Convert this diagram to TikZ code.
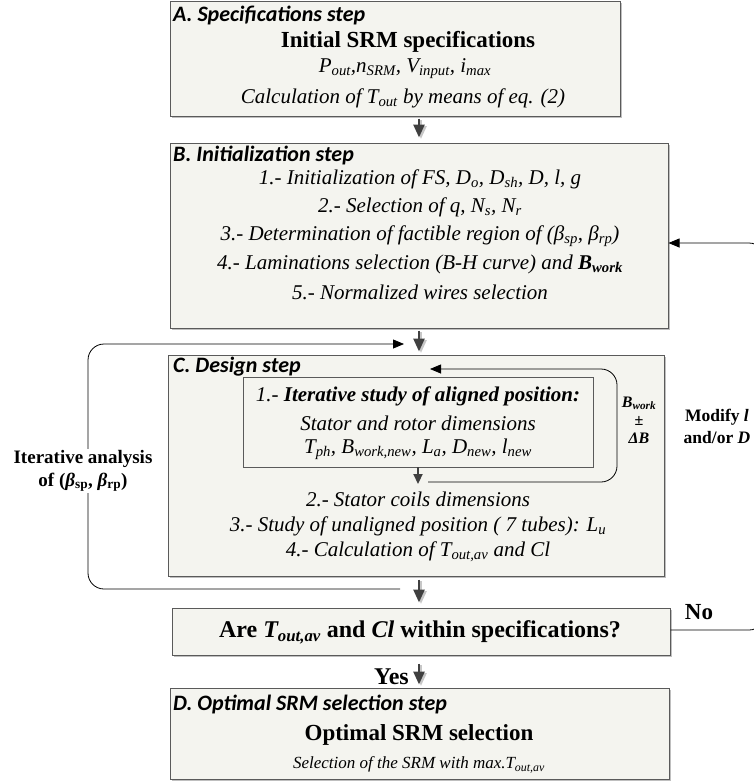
\documentclass[tikz,border=0pt]{standalone}
\usepackage{fontspec}
\setmainfont{Liberation Serif}
\newfontfamily\calib{Carlito}
\usetikzlibrary{arrows.meta,shadows}
\newcommand{\sbs}[1]{\textsubscript{#1}}
\definecolor{boxfill}{HTML}{F4F4EF}
\definecolor{boxline}{HTML}{5A5A5A}
\definecolor{arrowgray}{HTML}{404040}
\begin{document}
\begin{tikzpicture}[x=1pt,y=-1pt,
  stepbox/.style={draw=boxline, fill=boxfill, line width=1pt, inner sep=0,
     drop shadow={shadow xshift=1.5pt, shadow yshift=-1.5pt, fill=black!25, opacity=1}},
  innerbox/.style={draw=boxline, line width=0.9pt, inner sep=0,
     drop shadow={shadow xshift=1.2pt, shadow yshift=-1.2pt, fill=black!15, opacity=1}, fill=boxfill},
  steptitle/.style={anchor=west, font=\calib\bfseries\itshape\fontsize{22}{26}\selectfont, inner sep=0},
  bigtxt/.style={font=\bfseries\fontsize{23}{27}\selectfont, inner sep=0},
  bodytxt/.style={font=\itshape\fontsize{21}{25}\selectfont, inner sep=0},
  smalltxt/.style={font=\itshape\fontsize{17}{20}\selectfont, inner sep=0},
  sidetxt/.style={font=\bfseries\fontsize{19}{23}\selectfont, align=center, inner sep=1pt},
  flowarrow/.style={draw=arrowgray, line width=2.6pt, -{Triangle[width=11pt,length=13pt]}},
  arrowshade/.style={draw=black!22, line width=2.6pt, -{Triangle[width=11pt,length=13pt]},
     transform canvas={xshift=2pt, yshift=-1.5pt}},
  loopline/.style={draw=black, line width=0.8pt, rounded corners=16pt, -{Triangle[width=9pt,length=11pt]}},
]
\useasboundingbox (0,0) rectangle (754,782);
\clip (0,0) rectangle (754,782);

% ---- boxes
\node[stepbox, minimum width=450, minimum height=115] (A) at (395,58.5) {};
\node[stepbox, minimum width=498, minimum height=185] (B) at (419,235.5) {};
\node[stepbox, minimum width=496, minimum height=221] (C) at (416,465.5) {};
\node[innerbox, minimum width=350, minimum height=90] (I) at (418,422) {};
\node[stepbox, minimum width=498, minimum height=47] (Dec) at (421,631.5) {};
\node[stepbox, minimum width=499, minimum height=91] (D) at (419.5,733.5) {};

% ---- box A
\node[steptitle] (At) at (173,15) {A. Specifications step};
\node[bigtxt] (Ab) at (408,42) {Initial SRM specifications};
\node[bodytxt] (A1) at (405,69) {P\sbs{out},n\sbs{SRM}, V\sbs{input}, i\sbs{max}};
\node[bodytxt] (A2) at (403,98) {Calculation of T\sbs{out} by means of eq. (2)};

% ---- box B
\node[steptitle] (Bt) at (173,156) {B. Initialization step};
\node[bodytxt] (B1) at (420,179) {1.- Initialization of FS, D\sbs{o}, D\sbs{sh}, D, l, g};
\node[bodytxt] (B2) at (420,207) {2.- Selection of q, N\sbs{s}, N\sbs{r}};
\node[bodytxt] (B3) at (420,236) {3.- Determination of factible region of (β\sbs{sp}, β\sbs{rp})};
\node[bodytxt] (B4) at (420,264) {4.- Laminations selection (B-H curve) and \textbf{B\sbs{work}}};
\node[bodytxt] (B5) at (420,292) {5.- Normalized wires selection};

% ---- box C
\node[steptitle] (Ct) at (173,367) {C. Design step};
\node[bodytxt] (I1) at (418,396) {1.- \textbf{Iterative study of aligned position:}};
\node[bodytxt] (I2) at (418,423) {Stator and rotor dimensions};
\node[bodytxt] (I3) at (418,449) {T\sbs{ph}, B\sbs{work,new}, L\sbs{a}, D\sbs{new}, l\sbs{new}};
\node[bodytxt] (C2) at (418,499) {2.- Stator coils dimensions};
\node[bodytxt] (C3) at (418,526) {3.- Study of unaligned position ( 7 tubes): L\sbs{u}};
\node[bodytxt] (C4) at (418,552) {4.- Calculation of T\sbs{out,av} and Cl};

% ---- decision
\node[bigtxt, font=\bfseries\fontsize{24}{28}\selectfont] (Dq) at (420,632) {Are \textit{T\sbs{out,av}} and \textit{Cl} within specifications?};

% ---- box D
\node[steptitle] (Dt) at (173,704) {D. Optimal SRM selection step};
\node[bigtxt] (Db) at (419,735) {Optimal SRM selection};
\node[smalltxt] (D1) at (419,765) {Selection of the SRM with max.T\sbs{out,av}};

% ---- main flow arrows
\coordinate (xa) at (419,0);
\draw[arrowshade, shorten <=2pt, shorten >=5pt] (A.south -| xa) -- (B.north -| xa);
\draw[flowarrow, shorten <=2pt, shorten >=5pt] (A.south -| xa) -- (B.north -| xa);
\draw[arrowshade, shorten <=2pt, shorten >=3pt] (B.south -| xa) -- (C.north -| xa);
\draw[flowarrow, shorten <=2pt, shorten >=3pt] (B.south -| xa) -- (C.north -| xa);
\draw[arrowshade, shorten <=3pt, shorten >=5pt] (C.south -| xa) -- (Dec.north -| xa);
\draw[flowarrow, shorten <=3pt, shorten >=5pt] (C.south -| xa) -- (Dec.north -| xa);
\draw[arrowshade, shorten <=8pt, shorten >=3pt] (Dec.south -| xa) -- (D.north -| xa);
\draw[flowarrow, shorten <=8pt, shorten >=3pt] (Dec.south -| xa) -- (D.north -| xa);
\node[sidetxt, anchor=east, font=\bfseries\fontsize{24}{28}\selectfont] (yes) at (410,677) {Yes};

% ---- inner loop
\coordinate (iArr) at (418,484);
\draw[flowarrow, line width=2.2pt, -{Triangle[width=9pt,length=10pt]}] (I.south) -- (iArr);
\coordinate (iS) at (428,482);
\coordinate (iBR) at (617,482);
\coordinate (iTR) at (617,369);
\coordinate (iE) at (430,369);
\draw[loopline] (iS) -- (iBR) -- (iTR) -- (iE);
\node[font=\bfseries\itshape\fontsize{16}{18}\selectfont, align=center, inner sep=0] (bw) at (639,420) {B\sbs{work}\\\textup{±}\\ΔB};

% ---- left loop
\coordinate (lS) at (400,589);
\coordinate (lBL) at (88,589);
\coordinate (lTL) at (88,344);
\coordinate (lE) at (404,344);
\draw[loopline] (lS) -- (lBL) -- (lTL) -- (lE);
\node[sidetxt, fill=white] (iter) at (83,471) {Iterative analysis\\of (\textit{β}\sbs{sp}, \textit{β}\sbs{rp})};

% ---- right (No) loop
\coordinate (nR) at (765,630);
\coordinate (nT) at (765,243);
\coordinate (bin) at ([yshift=-7.5pt]B.east);
\draw[loopline] (Dec.east |- nR) -- (nR) -- (nT) -- (bin);
\node[sidetxt, font=\bfseries\fontsize{23}{27}\selectfont] (no) at (699,612) {No};
\node[sidetxt, font=\bfseries\fontsize{17.5}{22}\selectfont] (mod) at (717,426) {Modify \textit{l}\\and/or \textit{D}};
\end{tikzpicture}
\end{document}
